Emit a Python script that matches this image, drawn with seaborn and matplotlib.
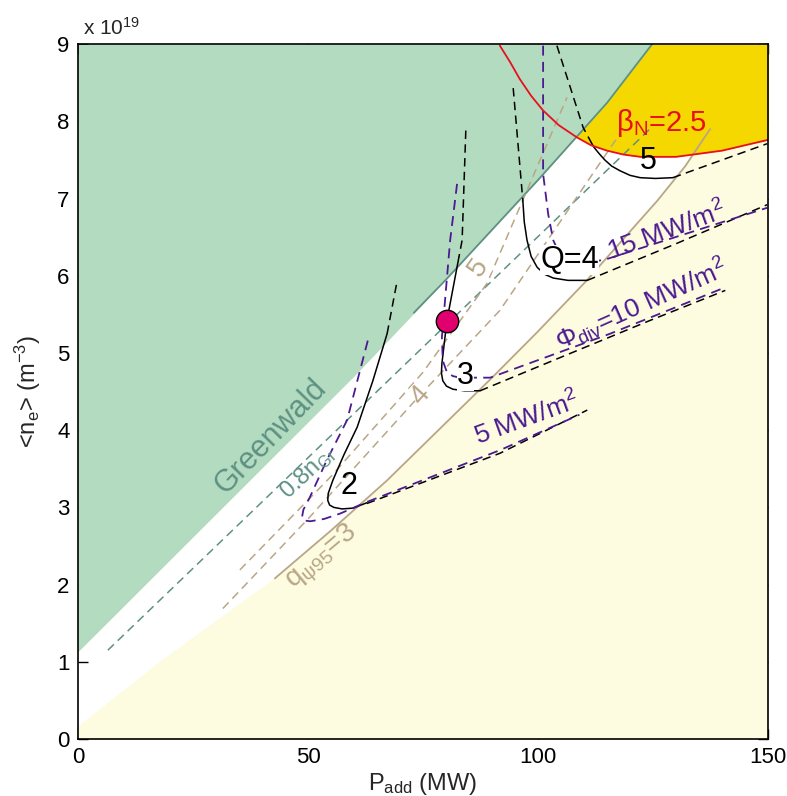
import matplotlib
matplotlib.use("Agg")
import matplotlib.pyplot as plt
import seaborn as sns

# ---------------- data (P_add in MW, <n_e> in 1e19 m^-3) ----------------
# Greenwald density limit (upper boundary of the operating window)
gw_p = [0, 20, 40, 60, 80, 100, 115, 124.8]
gw_n = [1.13, 2.32, 3.51, 4.70, 5.95, 7.24, 8.24, 9.0]
gw_edge_p = [73, 80, 100, 115, 124.8]
gw_edge_n = [5.52, 5.95, 7.24, 8.24, 9.0]

# 0.8 n_Gr line
gw08_p = [6.5, 124.3]
gw08_n = [1.15, 7.9]

# q_psi95 = 3 boundary (region below is shaded)
q3_p = [0, 17.8, 42.8, 55, 67.2, 78, 90, 100, 110.6, 118, 125.9, 132, 137.4, 144, 150]
q3_n = [0.16, 1.0, 2.08, 2.70, 3.35, 3.98, 4.68, 5.28, 5.94, 6.44, 6.97, 7.42, 7.9, 9.0, 9.0]
q3_line_p = [42.8, 55, 67.2, 78, 90, 100, 110.6, 118, 125.9, 132, 137.4]
q3_line_n = [2.08, 2.70, 3.35, 3.98, 4.68, 5.28, 5.94, 6.44, 6.97, 7.42, 7.9]

# q_psi95 = 4 and 5 lines
q4_p = [31.5, 50, 74.3, 91.7, 117.8]
q4_n = [1.69, 2.85, 4.45, 5.55, 7.84]
q5_p = [35.2, 55, 75, 88.9, 106.3]
q5_n = [2.19, 3.4, 4.75, 5.90, 8.31]

# beta_N = 2.5 boundary
bn_p = [91.7, 94, 96, 98.5, 101.1, 104.5, 108.5, 111.5, 115, 118.5, 122.2, 130, 140, 150]
bn_n = [8.98, 8.76, 8.55, 8.33, 8.14, 7.95, 7.79, 7.69, 7.62, 7.57, 7.54, 7.54, 7.62, 7.76]

# Fusion gain contours Q = 2, 3, 4, 5 (solid part + dashed continuations)
Q2_sol_p = [67.2, 64.1, 60.7, 57.8, 55.4, 54.4, 54.3, 54.7, 55.6, 57.4, 59.8, 62.8]
Q2_sol_n = [5.25, 4.64, 4.04, 3.68, 3.35, 3.18, 3.09, 3.03, 3.00, 2.98, 2.99, 3.06]
Q2_top_p = [67.2, 69.3]
Q2_top_n = [5.25, 5.91]
Q2_rgt_p = [62.8, 91.7, 110.7]
Q2_rgt_n = [3.05, 3.70, 4.26]

Q3_sol_p = [82.8, 80.2, 79.1, 79.0, 79.3, 80.1, 81.5, 84.0, 87.4]
Q3_sol_n = [6.24, 5.42, 4.86, 4.74, 4.64, 4.57, 4.53, 4.51, 4.51]
Q3_top_p = [84.3, 83.5, 82.8]
Q3_top_n = [7.88, 6.46, 6.24]
Q3_rgt_p = [87.4, 104.8, 124.3, 140.7]
Q3_rgt_n = [4.51, 4.94, 5.42, 5.81]

Q4_sol_p = [96.7, 97.0, 97.6, 98.5, 99.8, 101.4, 103.3, 106.5, 110.7]
Q4_sol_n = [6.97, 6.70, 6.46, 6.25, 6.11, 6.02, 5.97, 5.94, 5.94]
Q4_top_p = [94.6, 96.7]
Q4_top_n = [8.43, 6.97]
Q4_rgt_p = [110.7, 130.2, 149.8]
Q4_rgt_n = [5.94, 6.42, 6.92]

Q5_sol_p = [111.7, 112.2, 113.3, 114.5, 116.0, 117.8, 120.0, 122.2, 125.5, 129.3]
Q5_sol_n = [7.71, 7.66, 7.58, 7.50, 7.42, 7.36, 7.30, 7.27, 7.26, 7.27]
Q5_top_p = [104.1, 109.8, 111.7]
Q5_top_n = [8.98, 7.92, 7.71]
Q5_rgt_p = [129.3, 149.8]
Q5_rgt_n = [7.27, 7.71]

# Divertor heat flux contours 5, 10, 15 MW/m^2
phi5_p = [63.0, 58.5, 54.0, 50.4, 49.0, 48.7, 49.2, 50.5, 53.5, 57.0, 62.8, 91.7, 109.0]
phi5_n = [5.16, 4.13, 3.60, 3.13, 2.97, 2.87, 2.83, 2.82, 2.85, 2.92, 3.07, 3.74, 4.20]
phi10_p = [82.4, 80.9, 79.1, 79.3, 80.2, 81.5, 83.0, 89.6, 115.7, 140.7]
phi10_n = [7.19, 6.46, 5.20, 4.90, 4.75, 4.70, 4.68, 4.68, 5.25, 5.85]
phi15_p = [101.1, 101.1, 102.2, 103.3, 104.3, 105.5, 108.0, 114.1, 130.9, 149.8]
phi15_n = [8.98, 7.32, 6.80, 6.46, 6.33, 6.25, 6.18, 6.20, 6.52, 6.88]

# Reference operating point
op_p = [80.2]
op_n = [5.42]

x_ticks = [0, 50, 100, 150]
y_ticks = list(range(10))

# ---------------- styling ----------------
GREEN = "#b3dbbf"
GOLD = "#f5d800"
CREAM = "#fdfbe0"
TEAL = "#5e9184"
TAN = "#b9a686"
PURPLE = "#4b1a90"
RED = "#e8101e"
DASH = (0, (5.5, 3.5))

sns.set_theme(style="white")
plt.rcParams["font.family"] = ["Liberation Sans", "DejaVu Sans"]
plt.rcParams["mathtext.fontset"] = "custom"
plt.rcParams["mathtext.rm"] = "Liberation Sans"
plt.rcParams["mathtext.it"] = "Liberation Sans:italic"
plt.rcParams["mathtext.bf"] = "Liberation Sans:bold"

fig = plt.figure(figsize=(7.87, 7.96), dpi=100)
ax = fig.add_axes([0.099, 0.0716, 0.877, 0.873])
ax.set_facecolor("white")


def line(px, ny, color, ls="-", lw=1.1, z=4):
    sns.lineplot(x=px, y=ny, sort=False, estimator=None, color=color,
                 linestyle=ls, linewidth=lw, ax=ax, zorder=z)


# shaded regions
ax.fill(q3_p + [150, 0], q3_n + [0, 0], color=CREAM, lw=0, zorder=1)
ax.fill_between(bn_p, bn_n, 9, color=GOLD, lw=0, zorder=1.5)
ax.fill_between(gw_p, gw_n, 9, color=GREEN, lw=0, zorder=2)

# boundaries
line(gw_edge_p, gw_edge_n, TEAL, lw=1.3, z=3)
line(q3_line_p, q3_line_n, TAN, lw=1.3, z=3)
line(bn_p, bn_n, RED, lw=1.3, z=5)

# q95 and 0.8 n_Gr dashed lines
line(gw08_p, gw08_n, TEAL, ls=DASH, z=3)
line(q4_p, q4_n, TAN, ls=DASH, z=3)
line(q5_p, q5_n, TAN, ls=DASH, z=3)

# Q contours
for sp, sn in [(Q2_sol_p, Q2_sol_n), (Q3_sol_p, Q3_sol_n),
               (Q4_sol_p, Q4_sol_n), (Q5_sol_p, Q5_sol_n)]:
    line(sp, sn, "black", lw=1.1)
for dp, dn in [(Q2_top_p, Q2_top_n), (Q2_rgt_p, Q2_rgt_n),
               (Q3_top_p, Q3_top_n), (Q3_rgt_p, Q3_rgt_n),
               (Q4_top_p, Q4_top_n), (Q4_rgt_p, Q4_rgt_n),
               (Q5_top_p, Q5_top_n), (Q5_rgt_p, Q5_rgt_n)]:
    line(dp, dn, "black", ls=DASH, lw=1.1)

# divertor heat flux contours
for fp, fn in [(phi5_p, phi5_n), (phi10_p, phi10_n), (phi15_p, phi15_n)]:
    line(fp, fn, PURPLE, ls=DASH, lw=1.3, z=4.5)

# operating point
sns.scatterplot(x=op_p, y=op_n, s=260, color="#e0006e", edgecolor="black",
                linewidth=1.0, ax=ax, zorder=10, legend=False)

# ---------------- labels ----------------
kw = dict(ha="center", va="center", rotation_mode="anchor", zorder=12)
inline = dict(boxstyle="square,pad=0.0", fc="white", ec="none")
ax.text(42.0, 3.92, "Greenwald", color=TEAL, fontsize=22, rotation=46, **kw)
ax.text(50.0, 3.45, r"0.8n$_\mathrm{Gr}$", color=TEAL, fontsize=17, rotation=43, **kw)
ax.text(53.0, 2.35, r"q$_\mathrm{\psi 95}$=3", color=TAN, fontsize=20, rotation=40, **kw)
ax.text(74.5, 4.45, "4", color=TAN, fontsize=20, rotation=48, bbox=inline, **kw)
ax.text(87.0, 6.1, "5", color=TAN, fontsize=20, rotation=55, bbox=inline, **kw)
ax.text(59.0, 3.28, "2", color="black", fontsize=22, **kw)
ax.text(84.3, 4.70, "3", color="black", fontsize=22, bbox=inline, **kw)
ax.text(106.8, 6.21, "Q=4", color="black", fontsize=22, bbox=inline, **kw)
ax.text(124.0, 7.48, "5", color="black", fontsize=22, **kw)
ax.text(126.8, 7.98, r"$\mathrm{\beta}_\mathrm{N}$=2.5", color=RED, fontsize=21, **kw)
ax.text(97.5, 4.15, r"5 MW/m$^\mathrm{2}$", color=PURPLE, fontsize=19, rotation=20, **kw)
ax.text(122.5, 5.62, r"$\mathrm{\Phi_{div}}$=10 MW/m$^\mathrm{2}$", color=PURPLE,
        fontsize=19, rotation=24, **kw)
ax.text(128.0, 6.58, r"15 MW/m$^\mathrm{2}$", color=PURPLE, fontsize=19, rotation=20, **kw)

# ---------------- axes ----------------
ax.set_xlim(0, 150)
ax.set_ylim(0, 9)
ax.set_xticks(x_ticks)
ax.set_yticks(y_ticks)
ax.set_xticklabels([str(t) for t in x_ticks], fontsize=16)
ax.set_yticklabels([str(t) for t in y_ticks], fontsize=16)
ax.tick_params(direction="in", length=7, width=1, top=True, right=True,
               bottom=True, left=True, colors="black", pad=6)
for s in ax.spines.values():
    s.set_color("black")
    s.set_linewidth(1.2)
    s.set_zorder(20)
ax.set_xlabel(r"P$_\mathrm{add}$ (MW)", fontsize=17, labelpad=2)
ax.set_ylabel(r"<n$_\mathrm{e}$> (m$^\mathrm{-3}$)", fontsize=17, labelpad=10)
ax.grid(False)
fig.text(0.105, 0.965, r"x 10$^\mathrm{19}$", fontsize=15, ha="left", va="center")

fig.savefig("out.png", dpi=100)
